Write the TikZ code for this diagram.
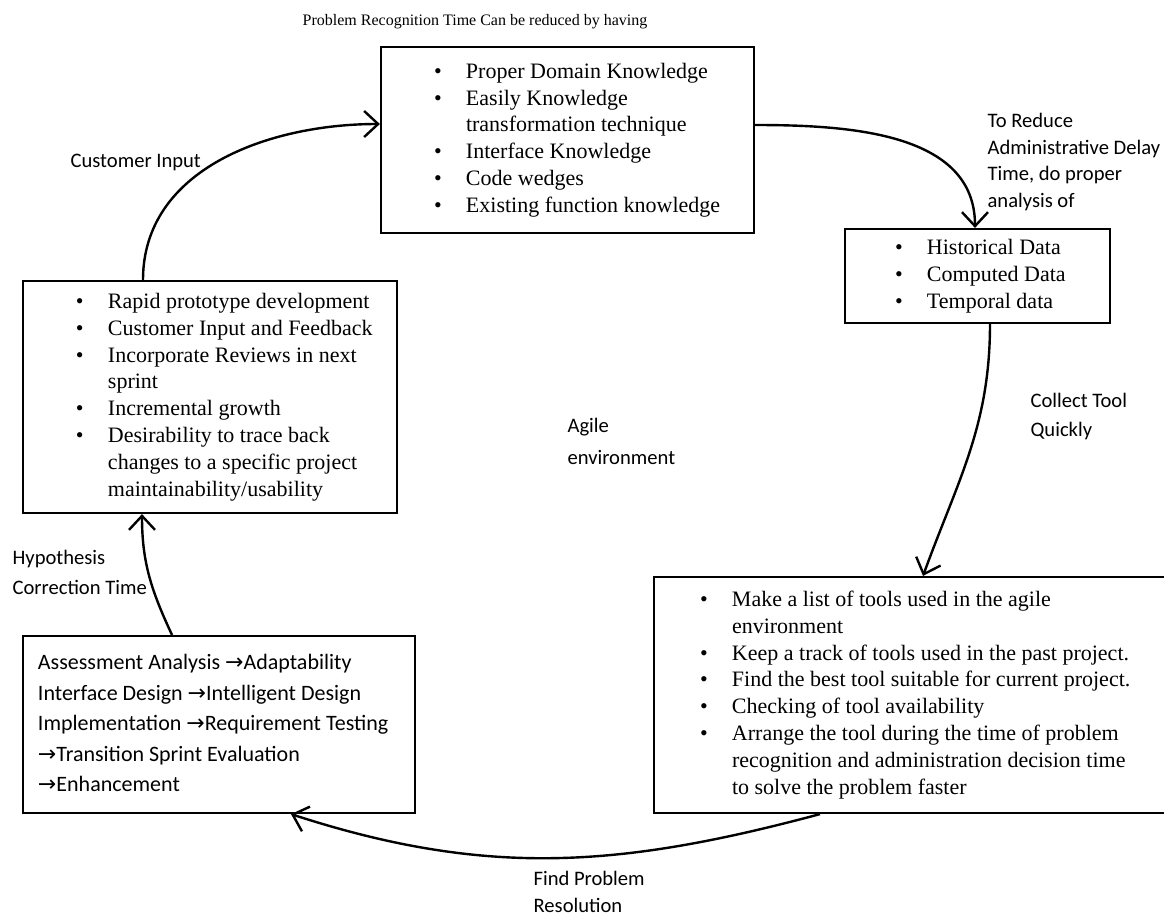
\documentclass[tikz,border=0pt]{standalone}
\usepackage{fontspec}
\setmainfont{Liberation Serif}
\newfontfamily\calib{Carlito}
\newfontfamily\arrowfont{DejaVu Sans}
\usetikzlibrary{arrows.meta, positioning}

\newcommand{\bul}{\makebox[16pt][l]{\textbullet}}
\newcommand{\cont}{\hspace*{16pt}}
\newcommand{\arr}{{\arrowfont\fontsize{11}{11}\selectfont →}}
\newcommand{\boxlist}[3]{\makebox[#1][l]{\hspace*{#2}\begin{tabular}{@{}l@{}}#3\end{tabular}}}

\begin{document}
\begin{tikzpicture}[
    x = 0.5pt, y = -0.5pt, % one unit is one pixel of the sketch
    > = {Straight Barb[length=7pt, width=13pt]}, % arrow head style
    shorten > = 0pt, % arrow head touches the box
    semithick % line style
    ]

    \tikzset{box/.style={draw = black, line width = 1.1pt, inner sep = 0pt,
                         font = \fontsize{11}{13.4}\selectfont},
             tag/.style={font = \calib\fontsize{10.3}{14.5}\selectfont,
                         align = left, anchor = west, inner sep = 0pt},
             flow/.style={line width = 1.2pt}}

    \useasboundingbox (0,0) rectangle (1164,916);

    \node[font=\fontsize{8}{9}\selectfont] (title) at (475,22) {Problem Recognition Time Can be reduced by having};

    \node[box, minimum height=93pt] (know) at (567.5,140) {\boxlist{186.5pt}{26.5pt}{
        \bul Proper Domain Knowledge\\
        \bul Easily Knowledge\\
        \cont transformation technique\\
        \bul Interface Knowledge\\
        \bul Code wedges\\
        \bul Existing function knowledge}};
    \node[box, minimum height=47pt] (hist) at (977.5,276) {\boxlist{132.5pt}{25pt}{
        \bul Historical Data\\
        \bul Computed Data\\
        \bul Temporal data}};
    \node[box, minimum height=118pt] (tools) at (913,695) {\boxlist{259pt}{23pt}{
        \bul Make a list of tools used in the agile\\
        \cont environment\\
        \bul Keep a track of tools used in the past project.\\
        \bul Find the best tool suitable for current project.\\
        \bul Checking of tool availability\\
        \bul Arrange the tool during the time of problem\\
        \cont recognition and administration decision time\\
        \cont to solve the problem faster}};
    \node[box, minimum height=88.5pt, font=\calib\fontsize{11}{15.3}\selectfont] (assess) at (219,724.5) {\boxlist{196pt}{7.5pt}{
        Assessment Analysis \arr Adaptability\\
        Interface Design \arr Intelligent Design\\
        Implementation \arr Requirement Testing\\
        \arr Transition Sprint Evaluation\\
        \arr Enhancement}};
    \node[box, minimum height=116pt] (proto) at (210,397) {\boxlist{187pt}{26.5pt}{
        \bul Rapid prototype development\\
        \bul Customer Input and Feedback\\
        \bul Incorporate Reviews in next\\
        \cont sprint\\
        \bul Incremental growth\\
        \bul Desirability to trace back\\
        \cont changes to a specific project\\
        \cont maintainability/usability}};

    \node[tag] (cust) at (70,162) {Customer Input};
    \node[tag, font=\calib\fontsize{10.3}{13.3}\selectfont] (reduce) at (987,162) {To Reduce\\Administrative Delay\\Time, do proper\\analysis of};
    \node[tag] (collect) at (1030,417) {Collect Tool\\Quickly};
    \node[tag, font=\calib\fontsize{10.3}{16}\selectfont] (agile) at (567,441) {Agile\\environment};
    \node[tag, font=\calib\fontsize{10.3}{15}\selectfont] (hypo) at (12,572) {Hypothesis\\Correction Time};
    \node[tag, font=\calib\fontsize{10.3}{13.5}\selectfont] (find) at (533,892) {Find Problem\\Resolution};

    \path[->, flow] ([xshift=-33.5pt]proto.north) edge[out=90, in=180] ([yshift=8pt]know.west);
    \path[->, flow] ([yshift=7.5pt]know.east) edge[out=0, in=90] ([xshift=-1.25pt]hist.north);
    \path[->, flow] ([xshift=6.25pt]hist.south) edge[out=-90, in=70] ([xshift=5pt]tools.north);
    \path[->, flow] ([xshift=-46.5pt]tools.south) edge[out=195, in=-18] ([xshift=36pt]assess.south);
    \path[->, flow] ([xshift=-23.5pt]assess.north) edge[out=115, in=-90] ([xshift=-34pt]proto.south);

\end{tikzpicture}
\end{document}
